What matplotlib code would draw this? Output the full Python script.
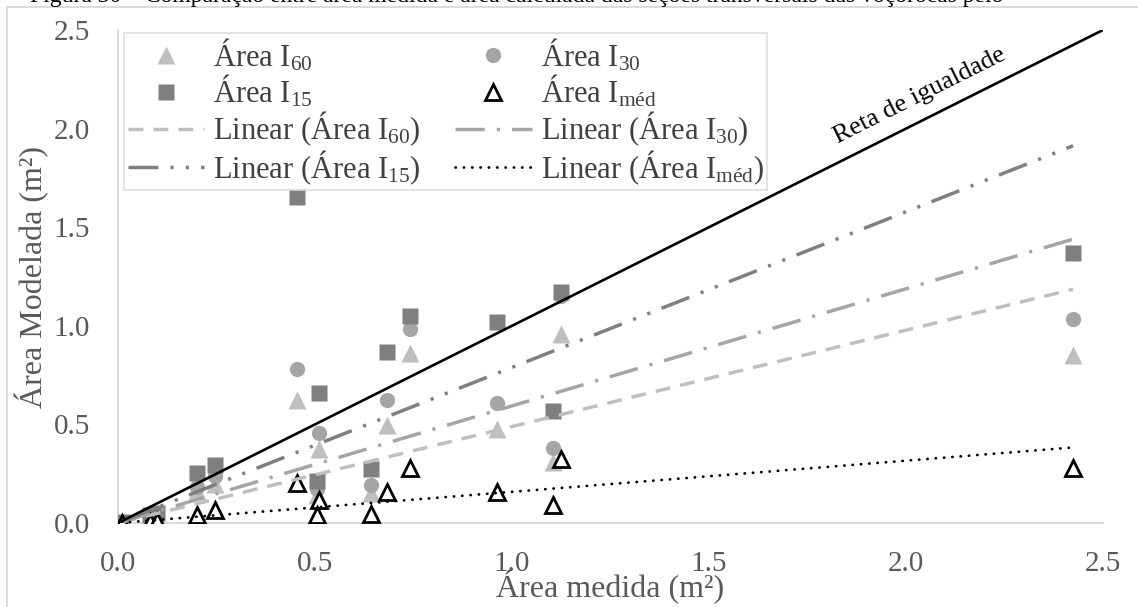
import numpy as np
import matplotlib.pyplot as plt
from matplotlib.lines import Line2D

plt.rcParams['font.family'] = ['Liberation Serif', 'DejaVu Serif']
plt.rcParams['mathtext.fontset'] = 'custom'
plt.rcParams['mathtext.rm'] = 'Liberation Serif'
plt.rcParams['mathtext.it'] = 'Liberation Serif:italic'

# area medida (m2) de cada secao e areas modeladas com I60, I30, I15 e Imed
area_medida = [0.009, 0.08, 0.10, 0.201, 0.246, 0.454, 0.51, 0.505, 0.641, 0.683, 0.741, 0.961, 1.103, 1.125, 2.424]
area_i60 = [0.004, 0.02, 0.03, 0.16, 0.20, 0.624, 0.374, 0.14, 0.15, 0.497, 0.86, 0.477, 0.31, 0.957, 0.852]
area_i30 = [0.005, 0.03, 0.04, 0.185, 0.236, 0.781, 0.455, 0.17, 0.194, 0.624, 0.982, 0.607, 0.382, 1.15, 1.034]
area_i15 = [0.007, 0.04, 0.05, 0.252, 0.296, 1.655, 0.658, 0.215, 0.276, 0.869, 1.048, 1.018, 0.568, 1.17, 1.368]
area_imed = [0.0, 0.005, 0.01, 0.04, 0.067, 0.201, 0.117, 0.04, 0.045, 0.159, 0.277, 0.156, 0.091, 0.323, 0.277]

x_ticks = [0.0, 0.5, 1.0, 1.5, 2.0, 2.5]
y_ticks = [0.0, 0.5, 1.0, 1.5, 2.0, 2.5]

W, H = 1138, 607
fig = plt.figure(figsize=(W / 100, H / 100), dpi=100)
ax = fig.add_axes([118 / W, 1 - 523 / H, (1103 - 118) / W, (523 - 30) / H])

x = np.array(area_medida)


def linear_origin(y):
    # linha de tendencia com intercepto zero
    y = np.array(y)
    a = np.sum(x * y) / np.sum(x * x)
    xs = np.array([x.min(), x.max()])
    return xs, a * xs


# pontos
ax.plot(x, area_i60, ls='none', marker='^', ms=12.5, color='#bfbfbf', mec='none', zorder=3)
ax.plot(x, area_i30, ls='none', marker='o', ms=11, color='#a5a5a5', mec='none', zorder=3)
ax.plot(x, area_i15, ls='none', marker='s', ms=12, color='#7f7f7f', mec='none', zorder=3)
ax.plot(x, area_imed, ls='none', marker='^', ms=12, mfc='white', mec='black', mew=2.0, zorder=3)

# linhas de tendencia
st60 = dict(color='#bfbfbf', lw=2.5, ls=(0, (4.3, 2.9)))
st30 = dict(color='#a5a5a5', lw=2.5, ls=(0, (8.4, 3.5, 0.9, 3.5)))
st15 = dict(color='#7f7f7f', lw=2.5, ls=(0, (8.6, 3.5, 0.9, 3.5, 0.9, 3.5)))
stmed = dict(color='black', lw=2.0, ls=(0, (0.1, 2.9)), dash_capstyle='round')

for yv, st in [(area_i60, st60), (area_i30, st30), (area_i15, st15), (area_imed, stmed)]:
    xs, ys = linear_origin(yv)
    ax.plot(xs, ys, zorder=4, **st)

# reta de igualdade
ax.plot([0, 2.5], [0, 2.5], color='black', lw=1.9, zorder=4)
ax.text(2.035, 2.165, 'Reta de igualdade', rotation=26.6, ha='center', va='center',
        fontsize=19, color='black')

ax.set_xlim(0, 2.5)
ax.set_ylim(0, 2.5)
ax.set_xticks(x_ticks)
ax.set_yticks(y_ticks)
ax.set_xticklabels([f'{v:.1f}' for v in x_ticks])
ax.set_yticklabels([f'{v:.1f}' for v in y_ticks])
ax.tick_params(length=0, labelsize=21, labelcolor='#595959')
ax.tick_params(axis='y', pad=20)
ax.tick_params(axis='x', pad=20)
for s in ['top', 'right']:
    ax.spines[s].set_visible(False)
for s in ['left', 'bottom']:
    ax.spines[s].set_color('#d9d9d9')
    ax.spines[s].set_linewidth(1.3)

ax.set_xlabel('Área medida (m²)', fontsize=23, color='#595959', labelpad=-5)
ax.set_ylabel('Área Modelada (m²)', fontsize=23, color='#595959', labelpad=3)

# legenda
h = [
    Line2D([], [], ls='none', marker='^', ms=12.5, color='#bfbfbf', mec='none'),
    Line2D([], [], ls='none', marker='s', ms=12, color='#7f7f7f', mec='none'),
    Line2D([], [], **st60),
    Line2D([], [], **st15),
    Line2D([], [], ls='none', marker='o', ms=11, color='#a5a5a5', mec='none'),
    Line2D([], [], ls='none', marker='^', ms=12, mfc='white', mec='black', mew=2.0),
    Line2D([], [], **st30),
    Line2D([], [], **stmed),
]
labels = [
    r'Área I$_{\mathrm{60}}$',
    r'Área I$_{\mathrm{15}}$',
    r'Linear (Área I$_{\mathrm{60}}$)',
    r'Linear (Área I$_{\mathrm{15}}$)',
    r'Área I$_{\mathrm{30}}$',
    r'Área I$_{\mathrm{méd}}$',
    r'Linear (Área I$_{\mathrm{30}}$)',
    r'Linear (Área I$_{\mathrm{méd}}$)',
]
leg = ax.legend(h, labels, ncol=2, loc='upper left', bbox_to_anchor=(124 / W, 1 - 33 / H),
                bbox_transform=fig.transFigure, fontsize=22, frameon=True, fancybox=False,
                handlelength=2.5, handletextpad=0.3, columnspacing=1.13, labelspacing=0.0,
                borderpad=0.12, borderaxespad=0)
leg.get_frame().set_edgecolor('#d9d9d9')
leg.get_frame().set_linewidth(1.3)
for t in leg.get_texts():
    t.set_color('#404040')

# moldura do grafico e legenda cortada no topo
fig.add_artist(Line2D([7 / W, 7 / W], [0, 1 - 7 / H], color='#d9d9d9', lw=1.3))
fig.add_artist(Line2D([7 / W, 1], [1 - 7 / H, 1 - 7 / H], color='#d9d9d9', lw=1.3))
fig.text(30 / W, 1 - 2 / H, 'Figura 30 – Comparação entre área medida e área calculada das seções transversais das voçorocas pelo',
         fontsize=17, va='baseline', ha='left', color='black')

fig.savefig('out.png', dpi=100)
